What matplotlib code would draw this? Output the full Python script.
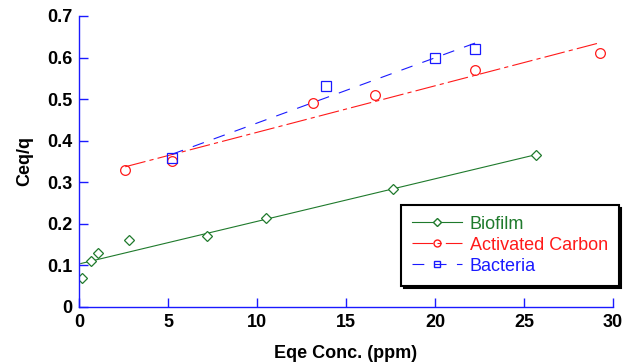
import matplotlib
matplotlib.use("Agg")
import matplotlib.pyplot as plt
from matplotlib.lines import Line2D

plt.rcParams['font.family'] = ['Liberation Sans', 'DejaVu Sans']
plt.rcParams['lines.scale_dashes'] = False

# data
bio_x = [0.17, 0.66, 1.09, 2.79, 7.17, 10.53, 17.64, 25.66]
bio_y = [0.070, 0.111, 0.130, 0.160, 0.170, 0.214, 0.283, 0.366]
ac_x = [2.57, 5.22, 13.15, 16.65, 22.23, 29.25]
ac_y = [0.329, 0.350, 0.490, 0.510, 0.570, 0.611]
bac_x = [5.22, 13.90, 20.02, 22.27]
bac_y = [0.357, 0.532, 0.600, 0.620]

# fitted lines (end points)
bio_fit_x = [0.1, 25.66]
bio_fit_y = [0.104, 0.366]
ac_fit_x = [2.6, 29.3]
ac_fit_y = [0.337, 0.636]
bac_fit_x = [5.22, 22.27]
bac_fit_y = [0.367, 0.635]

green = '#1f7a2c'
red = '#ff1a1a'
blue = '#1a1aff'

fig = plt.figure(figsize=(6.25, 3.63), dpi=100)
ax = fig.add_axes([0.1264, 0.155, 0.8544, 0.801])

# fits
ax.plot(bio_fit_x, bio_fit_y, color=green, lw=0.8)
ax.plot(ac_fit_x, ac_fit_y, color=red, lw=0.8, dashes=(15, 3, 3, 3))
ax.plot(bac_fit_x, bac_fit_y, color=blue, lw=0.8, dashes=(8.5, 7.5))

# points
ax.plot(bio_x, bio_y, ls='none', marker='D', ms=5.4, mfc='white', mec=green, mew=0.9)
ax.plot(ac_x, ac_y, ls='none', marker='o', ms=7, mfc='none', mec=red, mew=0.9)
ax.plot(bac_x, bac_y, ls='none', marker='s', ms=7, mfc='none', mec=blue, mew=0.9)

ax.set_xlim(0, 30)
ax.set_ylim(0, 0.7)
ax.set_xticks([0, 5, 10, 15, 20, 25, 30])
ax.set_xticklabels(['0', '5', '10', '15', '20', '25', '30'])
ax.set_yticks([0, 0.1, 0.2, 0.3, 0.4, 0.5, 0.6, 0.7])
ax.set_yticklabels(['0', '0.1', '0.2', '0.3', '0.4', '0.5', '0.6', '0.7'])

for s in ['top', 'right']:
    ax.spines[s].set_visible(False)
for s in ['left', 'bottom']:
    ax.spines[s].set_color(blue)
    ax.spines[s].set_linewidth(1.0)
ax.tick_params(direction='in', length=6.5, width=1.0, color=blue,
               labelsize=13, pad=5)
for lab in ax.get_xticklabels() + ax.get_yticklabels():
    lab.set_fontweight('bold')

ax.set_xlabel('Eqe Conc. (ppm)', fontsize=13, fontweight='bold', labelpad=10)
ax.set_ylabel('Ceq/q', fontsize=13, fontweight='bold', labelpad=10)

handles = [
    Line2D([], [], color=green, lw=0.8, marker='D', ms=4, mfc='white', mec=green),
    Line2D([], [], color=red, lw=0.8, marker='o', ms=5, mfc='none', mec=red, dashes=(15, 3, 3, 3)),
    Line2D([], [], color=blue, lw=0.8, marker='s', ms=5, mfc='none', mec=blue, dashes=(8.5, 7.5)),
]
leg = fig.legend(handles, ['Biofilm', 'Activated Carbon', 'Bacteria'],
                 loc='upper left', bbox_to_anchor=(0.6416, 0.4353),
                 bbox_transform=fig.transFigure, borderaxespad=0,
                 fontsize=13, handlelength=2.8, handletextpad=0.4,
                 labelspacing=0.22, borderpad=0.6, fancybox=False,
                 edgecolor='black', framealpha=1,
                 shadow={'color': 'black', 'alpha': 1})
leg.get_frame().set_linewidth(1.5)
for t, c in zip(leg.get_texts(), [green, red, blue]):
    t.set_color(c)

fig.savefig('out.png', dpi=100)
